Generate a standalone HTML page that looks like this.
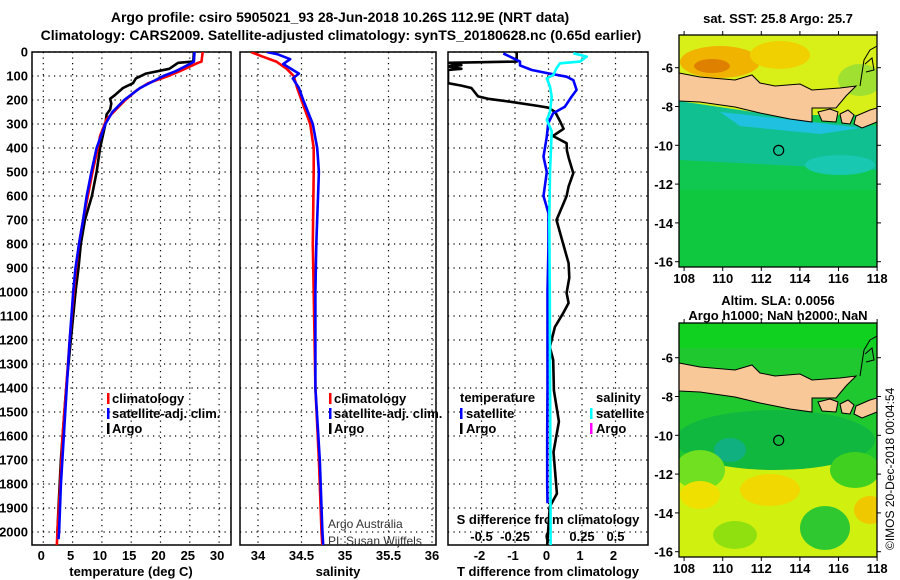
<!DOCTYPE html>
<html><head><meta charset="utf-8"><style>
html,body{margin:0;padding:0;background:#fff;}
svg{display:block;font-family:"Liberation Sans",Arial,sans-serif;}
.b{font-weight:bold;font-size:13px;}
</style></head><body>
<svg id="fig" width="900" height="580" viewBox="0 0 900 580" xmlns="http://www.w3.org/2000/svg">
<text class="b" x="340" y="22" text-anchor="middle" style="font-size:14px">Argo profile: csiro 5905021_93 28-Jun-2018 10.26S 112.9E (NRT data)</text>
<text class="b" x="341" y="40" text-anchor="middle" style="font-size:14px">Climatology: CARS2009. Satellite-adjusted climatology: synTS_20180628.nc (0.65d earlier)</text>
<g id="p1"></g>
<g id="p2"></g>
<g id="p3"></g>
<g id="maps"></g>
<text font-size="12" transform="translate(894,550) rotate(-90)">©IMOS 20-Dec-2018 00:04:54</text>
</svg>
<script>
// ---- data ----
const depthTicks=[0,100,200,300,400,500,600,700,800,900,1000,1100,1200,1300,1400,1500,1600,1700,1800,1900,2000];
const tempTicks=[0,5,10,15,20,25,30];
const salTicks=[34,34.5,35,35.5,36];
const salTickLabels=["34","34.5","35","35.5","36"];
const tdiffTicks=[-2,-1,0,1,2];
const sdiffTicks=[-0.5,-0.25,0,0.25,0.5];
const sdiffTickLabels=["-0.5","-0.25","0","0.25","0.5"];

const argoTDepth=[0,40,45,70,90,110,130,150,180,195,215,240,260,300,400,500,600,700,800,900,1000,1100,1200,1300,1400,1500,1600,1700,1800,1900,2000];
const argoT=[25.7,25.6,23,21.5,17.5,15.8,15.3,13.6,12.2,11.4,11.6,11.4,10.8,10.6,9.7,9.1,8.3,7.1,6.4,6.0,5.5,5.1,4.7,4.3,3.9,3.6,3.3,3.0,2.8,2.6,2.4];
const climTDepth=[0,40,45,80,100,130,160,200,250,280,350,400,500,600,700,800,900,1000,1200,1400,1600,1800,2000,2060];
const climT=[27.2,27.0,26.4,23.3,21.3,17.9,15.9,14.0,12.0,10.8,9.7,9.3,8.4,7.6,6.8,6.1,5.6,5.2,4.5,3.9,3.3,2.9,2.4,2.3];
const satTDepth=[0,40,50,80,100,150,200,250,300,400,500,600,700,800,900,1000,1200,1400,1600,1800,2000,2030];
const satT=[25.8,25.7,25.0,22.6,20.5,16.5,13.8,11.8,10.6,9.1,8.2,7.4,6.8,6.1,5.5,5.1,4.5,4.0,3.5,3.0,2.7,2.6];

const climSDepth=[0,20,40,70,100,150,200,300,400,500,800,1000,1400,1700,2000,2060];
const climS=[33.92,34.06,34.21,34.33,34.41,34.45,34.5,34.6,34.64,34.64,34.63,34.64,34.66,34.7,34.73,34.74];
const satSDepth=[0,10,30,50,90,110,150,200,300,400,500,800,1000,1400,1700,2000,2060];
const satS=[34.1,34.23,34.37,34.29,34.47,34.4,34.47,34.52,34.63,34.68,34.7,34.67,34.66,34.66,34.71,34.74,34.75];

const argoDDepth=[0,40,45,55,60,70,75,130,140,150,185,195,210,225,232,250,290,320,350,380,410,440,505,560,600,630,700,800,880,940,1004,1046,1088,1146,1229,1283,1410,1540,1667,1840,1894,2052];
const argoDT=[-0.95,-0.95,-3.0,-2.6,-3.0,-2.6,-3.0,-3.0,-2.6,-2.3,-2.1,-1.8,-1.0,-0.3,0.0,0.2,0.35,0.45,0.13,0.54,0.55,0.6,0.74,0.6,0.54,0.45,0.24,0.44,0.6,0.62,0.54,0.6,0.44,0.19,0.04,0.14,0.16,0.31,0.15,0.25,0.04,-0.04];
const satDDepth=[6,40,56,75,89,103,117,158,186,228,255,297,353,436,500,600,672,800,1000,1200,1400,1600,1800,1880];
const satDT=[-1.35,-0.85,-0.85,-0.5,0,0.54,0.74,0.84,0.69,0.49,0.14,-0.01,-0.05,-0.15,-0.05,-0.15,0,0,-0.03,-0.03,-0.03,-0.04,-0.04,-0.03];
const satSDDepth=[5,19,40,47,68,96,110,144,186,250,283,330,500,700,1000,1400,1800,2060];
const satDS=[0.185,0.285,0.235,0.086,0.06,0.036,-0.013,0.011,0.024,0.011,-0.013,0.024,0.011,0.006,0.01,0.012,0.015,0.016];

// ---- geometry ----
const Y0=52, PY=0.24, PBOT=545, PTOP=52;
const yOf=d=>Y0+d*PY;
const xT=t=>43.3+5.86*t;
const xS=s=>258+87*(s-34);
const xDT=t=>548.5+33.5*t;
const xDS=s=>548.5+134*s;
const NS="http://www.w3.org/2000/svg";
function el(tag,attrs,parent,txt){const e=document.createElementNS(NS,tag);for(const k in attrs)e.setAttribute(k,attrs[k]);if(txt!==undefined)e.textContent=txt;parent.appendChild(e);return e;}

function panel(g,x0,x1,clipId,xs,xf){
  el('clipPath',{id:clipId},g);
  el('rect',{x:x0,y:PTOP,width:x1-x0,height:PBOT-PTOP},g.lastChild);
  depthTicks.forEach(d=>{const l=el('line',{x1:x0,x2:x1,y1:yOf(d),y2:yOf(d),stroke:'#000','stroke-width':1.2,'stroke-dasharray':'1.2 4.3'},g);
  
  });
  xs.forEach(v=>{const l=el('line',{x1:xf(v),x2:xf(v),y1:PTOP,y2:PBOT,stroke:'#000','stroke-width':1.2,'stroke-dasharray':'1.2 4.3'},g);
  
  });
  const r=el('rect',{x:x0,y:PTOP,width:x1-x0,height:PBOT-PTOP,fill:'none',stroke:'#000','stroke-width':1.5},g);
  
  
}
function line(g,ds,vs,xf,color,name,clip,w){
  const pts=ds.map((d,i)=>xf(vs[i]).toFixed(1)+','+yOf(d).toFixed(1)).join(' ');
  const p=el('polyline',{points:pts,fill:'none',stroke:color,'stroke-width':w||2.6,'stroke-linejoin':'round','clip-path':'url(#'+clip+')'},g);
  
  
}
function txt(g,x,y,s,name,anchor,extra){const t=el('text',Object.assign({x:x,y:y,'text-anchor':anchor||'start','class':'b'},extra||{}),g,s);
  
  return t;}
function legBar(g,x,y,color){const r=el('rect',{x:x,y:y-10,width:2.5,height:11,fill:color},g);
  
  }

// Panel 1
const p1=document.getElementById('p1');
panel(p1,32,231,'c1',tempTicks,xT);
depthTicks.forEach(d=>txt(p1,28,yOf(d)+4.5,String(d),'depth-tick-label','end'));
tempTicks.forEach(v=>txt(p1,xT(v)-2,560,String(v),'temp-tick-label','middle'));
txt(p1,131,576,'temperature (deg C)','x-axis-title-temperature','middle');
line(p1,argoTDepth,argoT,xT,'#000','argo-temperature-line','c1');
line(p1,climTDepth,climT,xT,'#f00','climatology-temperature-line','c1');
line(p1,satTDepth,satT,xT,'#00f','satellite-temperature-line','c1');
legBar(p1,107,403,'#f00');txt(p1,112,403,'climatology','legend-climatology');
legBar(p1,107,418,'#00f');txt(p1,112,418,'satellite-adj. clim.','legend-satellite');
legBar(p1,107,433,'#000');txt(p1,112,433,'Argo','legend-argo');

// Panel 2
const p2=document.getElementById('p2');
panel(p2,240,436,'c2',salTicks,xS);
salTicks.forEach((v,i)=>txt(p2,xS(v),560,salTickLabels[i],'salinity-tick-label','middle'));
txt(p2,338,576,'salinity','x-axis-title-salinity','middle');
line(p2,climSDepth,climS,xS,'#f00','climatology-salinity-line','c2');
line(p2,satSDepth,satS,xS,'#00f','satellite-salinity-line','c2');
legBar(p2,329,403,'#f00');txt(p2,334,403,'climatology','legend-climatology');
legBar(p2,329,418,'#00f');txt(p2,334,418,'satellite-adj. clim.','legend-satellite');
legBar(p2,329,433,'#000');txt(p2,334,433,'Argo','legend-argo');
txt(p2,328,528,'Argo Australia','credit-argo-australia','start',{'font-weight':'normal','font-size':'12','fill':'#333','class':''});
txt(p2,328,545,'PI: Susan Wijffels','credit-pi','start',{'font-weight':'normal','font-size':'12','fill':'#333','class':''});

// Panel 3
const p3=document.getElementById('p3');
panel(p3,448,648,'c3',tdiffTicks,xDT);
tdiffTicks.forEach(v=>txt(p3,xDT(v)-2,560,String(v),'tdiff-tick-label','middle'));
sdiffTicks.forEach((v,i)=>txt(p3,xDS(v),541,sdiffTickLabels[i],'sdiff-tick-label','middle'));
txt(p3,548,524,'S difference from climatology','sdiff-axis-title','middle');
txt(p3,548,576,'T difference from climatology','tdiff-axis-title','middle');
line(p3,argoDDepth,argoDT,xDT,'#000','argo-temperature-difference-line','c3');
line(p3,satDDepth,satDT,xDT,'#00f','satellite-temperature-difference-line','c3');
line(p3,satSDDepth,satDS,xDS,'#00ffff','satellite-salinity-difference-line','c3');
txt(p3,460,402,'temperature','legend-temperature-heading');
txt(p3,596,402,'salinity','legend-salinity-heading');
legBar(p3,460,418,'#00f');txt(p3,466,418,'satellite','legend-t-satellite');
legBar(p3,460,433,'#000');txt(p3,466,433,'Argo','legend-t-argo');
legBar(p3,590,418,'#00ffff');txt(p3,596,418,'satellite','legend-s-satellite');
legBar(p3,590,433,'#ff00ff');txt(p3,596,433,'Argo','legend-s-argo');

// Maps
const maps=document.getElementById('maps');
const lonTicks=[108,110,112,114,116,118];
const latTicks=[-6,-8,-10,-12,-14,-16];
const MX0=679,MX1=877;
const lonX=l=>722.7+19.3*(l-110);
function mapFrame(top,bot,lat6y,name,clipId,draw){
  const g=el('g',{},maps);
  
  
  el('clipPath',{id:clipId},g);el('rect',{x:MX0,y:top,width:MX1-MX0,height:bot-top},g.lastChild);
  const inner=el('g',{'clip-path':'url(#'+clipId+')'},g);
  draw(inner);
  el('rect',{x:MX0,y:top,width:MX1-MX0,height:bot-top,fill:'none',stroke:'#000','stroke-width':1.3},g);
  const latY=l=>lat6y+19.4*(-6-l);
  latTicks.forEach(l=>{el('line',{x1:MX0-4,x2:MX0,y1:latY(l),y2:latY(l),stroke:'#000'},g);
    el('line',{x1:MX1,x2:MX1+4,y1:latY(l),y2:latY(l),stroke:'#000'},g);
    txt(g,673,latY(l)+5,String(l),'lat-tick-label','end',{'font-size':'13'});});
  lonTicks.forEach(l=>{el('line',{x1:lonX(l),x2:lonX(l),y1:bot,y2:bot+4,stroke:'#000'},g);
    el('line',{x1:lonX(l),x2:lonX(l),y1:top-4,y2:top,stroke:'#000'},g);
    txt(g,lonX(l),bot+16,String(l),'lon-tick-label','middle',{'font-size':'13'});});
  const c=el('circle',{cx:lonX(112.9),cy:latY(-10.26),r:5,fill:'none',stroke:'#000','stroke-width':1.2},g);
  
  
}
function land(g,dy){
  el('path',{d:`M679,${73+dy} L700,${77+dy} L735,${80+dy} L752,${75+dy} L760,${83+dy} L775,${86+dy} L800,${84+dy} L812,${90+dy} L840,${88+dy} L856,${86+dy} L846,${96+dy} L836,${108+dy} L812,${108+dy} L812,${122+dy} L790,${119+dy} L760,${113+dy} L735,${107+dy} L700,${102+dy} L679,${101+dy} Z`,fill:'#f8c898',stroke:'#000','stroke-width':1},g);
  el('path',{d:`M818,${112+dy} L830,${109+dy} L838,${112+dy} L836,${122+dy} L822,${121+dy} Z M840,${114+dy} L848,${110+dy} L854,${115+dy} L850,${124+dy} L842,${123+dy} Z M856,${116+dy} L870,${110+dy} L877,${108+dy} L877,${122+dy} L862,${128+dy} L854,${124+dy} Z`,fill:'#f8c898',stroke:'#000','stroke-width':1},g);
  el('path',{d:`M860,${86+dy} L864,${60+dy} L870,${50+dy} L877,${46+dy} M865,${64+dy} L872,${58+dy} L874,${70+dy} L866,${72+dy}`,fill:'none',stroke:'#000','stroke-width':1},g);
}
mapFrame(35,267,67.7,'sst-map','cm1',g=>{
  el('rect',{x:679,y:35,width:200,height:232,fill:'#10c850'},g);
  el('rect',{x:679,y:35,width:200,height:80,fill:'#d8f018'},g);
  el('ellipse',{cx:720,cy:62,rx:40,ry:16,fill:'#f0b400'},g);
  el('ellipse',{cx:712,cy:66,rx:18,ry:7,fill:'#e08000'},g);
  el('ellipse',{cx:780,cy:55,rx:30,ry:14,fill:'#f0d000'},g);
  el('ellipse',{cx:860,cy:80,rx:22,ry:16,fill:'#a0e030'},g);
  el('path',{d:'M679,101 L760,113 L812,122 L877,126 L877,170 L679,160 Z',fill:'#10c090'},g);
  el('path',{d:'M720,112 L812,122 L860,128 L820,134 L740,126 Z',fill:'#20c0e0'},g);
  el('ellipse',{cx:840,cy:165,rx:35,ry:10,fill:'#18c8b0'},g);
  el('rect',{x:679,y:190,width:200,height:77,fill:'#10c840'},g);
  land(g,0);
});
txt(maps,778,23,'sat. SST: 25.8 Argo: 25.7','sst-map-title','middle');
mapFrame(323,557,357.7,'sla-map','cm2',g=>{
  el('rect',{x:679,y:323,width:200,height:234,fill:'#20c830'},g);
  el('rect',{x:679,y:323,width:200,height:25,fill:'#10d020'},g);
  el('rect',{x:679,y:465,width:200,height:92,fill:'#d0f010'},g);
  el('ellipse',{cx:775,cy:440,rx:100,ry:30,fill:'#10b840'},g);
  el('ellipse',{cx:730,cy:450,rx:16,ry:12,fill:'#10b080'},g);
  el('ellipse',{cx:700,cy:470,rx:25,ry:20,fill:'#70e020'},g);
  el('ellipse',{cx:855,cy:470,rx:25,ry:18,fill:'#40d020'},g);
  el('ellipse',{cx:770,cy:490,rx:30,ry:16,fill:'#f0d800'},g);
  el('ellipse',{cx:700,cy:495,rx:20,ry:14,fill:'#f0e000'},g);
  el('ellipse',{cx:870,cy:510,rx:16,ry:14,fill:'#f0c800'},g);
  el('ellipse',{cx:825,cy:528,rx:25,ry:22,fill:'#30c830'},g);
  el('ellipse',{cx:735,cy:535,rx:22,ry:14,fill:'#90e010'},g);
  land(g,290);
});
txt(maps,778,305,'Altim. SLA: 0.0056','sla-map-title','middle');
txt(maps,778,320,'Argo h1000: NaN h2000: NaN','sla-map-subtitle','middle');
</script>
</body></html>
